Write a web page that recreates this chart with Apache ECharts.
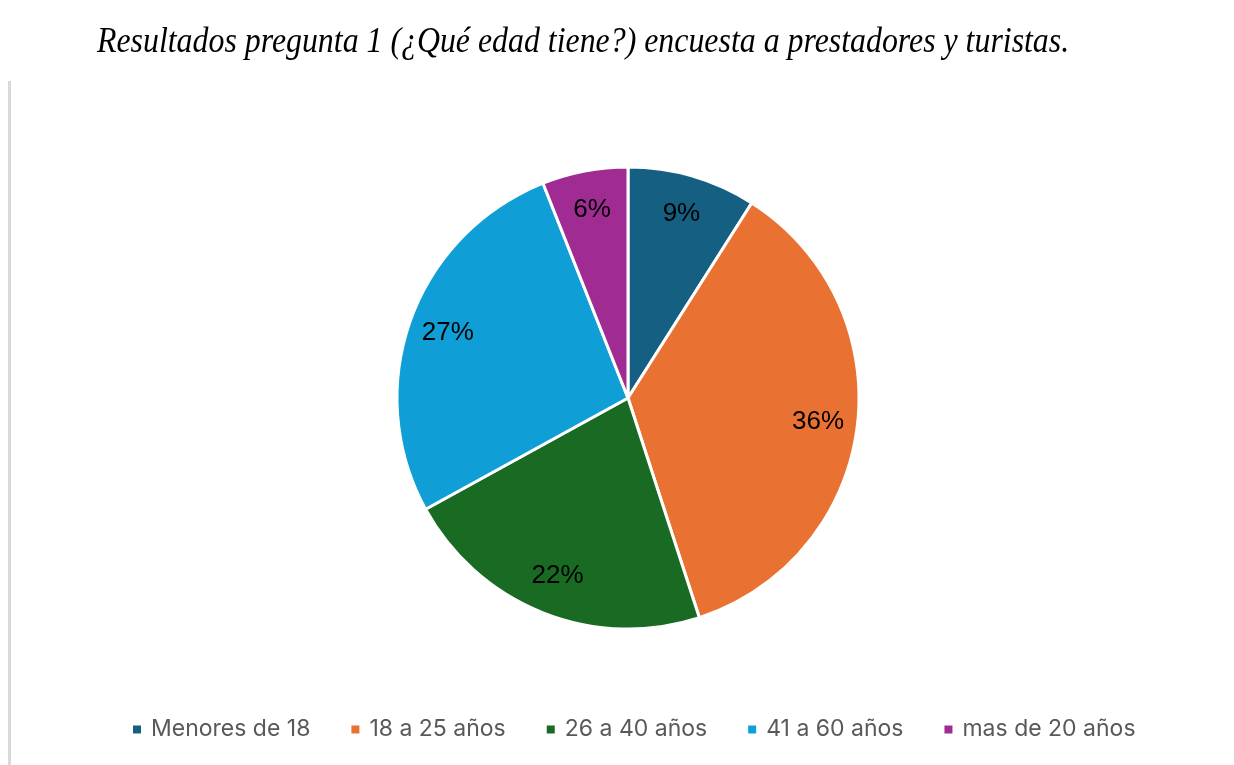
<!DOCTYPE html>
<html>
<head>
<meta charset="utf-8">
<script src="https://cdn.jsdelivr.net/npm/echarts@6/dist/echarts.min.js"></script>
<style>
  html, body { margin: 0; padding: 0; background: #fff; }
  #chart { width: 1234px; height: 765px; }
</style>
</head>
<body>
<div id="chart"></div>
<script>
// Age groups and their share of responses (%)
const categories = ['Menores de 18', '18 a 25 años', '26 a 40 años', '41 a 60 años', 'mas de 20 años'];
const values = [9, 36, 22, 27, 6];
const colors = ['#156082', '#E97132', '#196B24', '#0F9ED5', '#A02B93'];
const titleText = 'Resultados pregunta 1 (¿Qué edad tiene?) encuesta a prestadores y turistas.';

const pieData = categories.map((name, i) => ({ name: name, value: values[i] }));

const chart = echarts.init(document.getElementById('chart'));

const option = {
    animation: false,
    color: colors,
    graphic: [
        {
            // caption above the chart, slightly condensed like the source document
            type: 'text',
            x: 97,
            y: 25,
            scaleX: 0.91,
            silent: true,
            style: {
                text: titleText,
                fontFamily: 'Liberation Serif',
                fontStyle: 'italic',
                fontSize: 35,
                fill: '#000',
                verticalAlign: 'top'
            }
        },
        {
            type: 'rect',
            shape: { x: 8, y: 81, width: 3, height: 690 },
            style: { fill: '#d9d9d9' },
            silent: true
        }
    ],
    legend: {
        bottom: 19,
        left: 126,
        icon: 'rect',
        itemWidth: 10,
        itemHeight: 10,
        itemGap: 39,
        textStyle: {
            fontFamily: 'Inter',
            fontSize: 23,
            color: '#595959',
            padding: [0, 0, 0, 4]
        },
        data: categories
    },
    series: [
        {
            type: 'pie',
            center: [628, 398],
            radius: 231,
            startAngle: 90,
            clockwise: true,
            data: pieData,
            itemStyle: { borderColor: '#fff', borderWidth: 3 },
            label: { show: false },
            labelLine: { show: false },
            emphasis: { disabled: true }
        },
        {
            // transparent ring that only carries the percentage labels
            type: 'pie',
            center: [628, 398],
            radius: [146, 231],
            startAngle: 90,
            clockwise: true,
            silent: true,
            data: pieData,
            itemStyle: { color: 'rgba(0,0,0,0)' },
            label: {
                show: true,
                position: 'inside',
                formatter: '{c}%',
                fontFamily: 'Liberation Sans',
                fontSize: 26,
                color: '#000'
            },
            labelLine: { show: false },
            emphasis: { disabled: true }
        }
    ]
};

chart.setOption(option);
</script>
</body>
</html>
